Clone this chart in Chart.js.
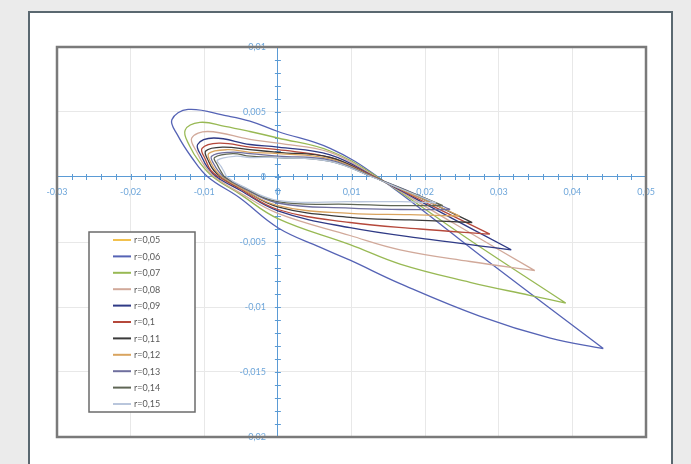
<!DOCTYPE html>
<html><head><meta charset="utf-8">
<script src="https://cdn.jsdelivr.net/npm/chart.js@4.4.1/dist/chart.umd.min.js"></script>
<style>
html,body{margin:0;padding:0;background:#ebebeb;width:691px;height:464px;overflow:hidden;}
#card{position:absolute;left:28px;top:11px;width:641px;height:470px;border:2px solid #5a6870;background:#fff;}
#c{position:absolute;left:0;top:0;}
</style></head><body>
<div id="card"></div>
<canvas id="c" width="691" height="464"></canvas>
<script>
const seriesLabels = ['r=0,05','r=0,06','r=0,07','r=0,08','r=0,09','r=0,1','r=0,11','r=0,12','r=0,13','r=0,14','r=0,15'];
const seriesColors = ['#f2c14e','#5563b5','#98b954','#d1a99a','#2f3a86','#b5483b','#3a3a3a','#d9a45f','#6f6f9e','#5f6655','#b9c6dc'];
const xTickLabels = ['-0,03','-0,02','-0,01','0','0,01','0,02','0,03','0,04','0,05'];
const yTickLabels = ['-0,02','-0,015','-0,01','-0,005','0','0,005','0,01'];

const r05X = [];
const r05Y = [];
const r06X = [0.0442, 0.0288, 0.0136, 0.0071, 0, -0.0038, -0.0069, -0.0122, -0.0144, -0.0136, -0.0117, -0.0095, -0.0052, 0, 0.0057, 0.0098, 0.0166, 0.0274, 0.0370, 0.0442];
const r06Y = [-0.0132, -0.0066, 0, 0.0022, 0.0035, 0.0043, 0.0047, 0.0052, 0.0044, 0.0032, 0.0015, 0, -0.0016, -0.0039, -0.0054, -0.0064, -0.0082, -0.0107, -0.0124, -0.0132];
const r07X = [0.0391, 0.0262, 0.0135, 0.0071, 0, -0.0038, -0.0072, -0.0106, -0.0126, -0.0120, -0.0106, -0.0088, -0.0052, 0, 0.0098, 0.0166, 0.0261, 0.0342, 0.0391];
const r07Y = [-0.0097, -0.0049, 0, 0.0020, 0.0030, 0.0035, 0.0039, 0.0042, 0.0036, 0.0024, 0.0011, 0, -0.0013, -0.0032, -0.0052, -0.0067, -0.0081, -0.0091, -0.0097];
const r08X = [0.0349, 0.0240, 0.0133, 0.0071, 0, -0.0038, -0.0095, -0.0117, -0.0110, -0.0099, -0.0086, -0.0052, 0, 0.0098, 0.0166, 0.0261, 0.0349];
const r08Y = [-0.0072, -0.0036, 0, 0.0019, 0.0026, 0.0029, 0.0035, 0.0030, 0.0019, 0.0008, 0, -0.0012, -0.0028, -0.0045, -0.0056, -0.0065, -0.0072];
const r09X = [0.0317, 0.0224, 0.0132, 0.0071, 0, -0.0038, -0.0087, -0.0109, -0.0103, -0.0095, -0.0083, -0.0052, 0, 0.0098, 0.0206, 0.0317];
const r09Y = [-0.0056, -0.0028, 0, 0.0017, 0.0023, 0.0025, 0.0030, 0.0025, 0.0015, 0.0007, 0, -0.0010, -0.0026, -0.0039, -0.0048, -0.0056];
const r10X = [0.0288, 0.0209, 0.0132, 0.0071, 0, -0.0038, -0.0080, -0.0103, -0.0098, -0.0091, -0.0080, -0.0052, 0, 0.0098, 0.0193, 0.0288];
const r10Y = [-0.0044, -0.0022, 0, 0.0015, 0.0021, 0.0023, 0.0026, 0.0022, 0.0013, 0.0005, 0, -0.0009, -0.0025, -0.0035, -0.0040, -0.0044];
const r11X = [0.0264, 0.0197, 0.0130, 0.0071, 0, -0.0038, -0.0075, -0.0098, -0.0094, -0.0087, -0.0077, -0.0052, 0, 0.0098, 0.0179, 0.0264];
const r11Y = [-0.0035, -0.0017, 0, 0.0015, 0.0019, 0.0021, 0.0023, 0.0020, 0.0012, 0.0005, 0, -0.0008, -0.0023, -0.0031, -0.0033, -0.0035];
const r12X = [0.0247, 0.0189, 0.0130, 0.0071, 0, -0.0038, -0.0069, -0.0094, -0.0090, -0.0083, -0.0076, -0.0052, 0, 0.0098, 0.0179, 0.0247];
const r12Y = [-0.0030, -0.0015, 0, 0.0014, 0.0018, 0.0019, 0.0021, 0.0018, 0.0010, 0.0004, 0, -0.0008, -0.0022, -0.0028, -0.0029, -0.0030];
const r13X = [0.0234, 0.0182, 0.0129, 0.0071, 0, -0.0038, -0.0065, -0.0090, -0.0086, -0.0080, -0.0073, -0.0052, 0, 0.0098, 0.0166, 0.0234];
const r13Y = [-0.0025, -0.0012, 0, 0.0013, 0.0016, 0.0018, 0.0019, 0.0016, 0.0009, 0.0004, 0, -0.0007, -0.0020, -0.0024, -0.0025, -0.0025];
const r14X = [0.0224, 0.0177, 0.0129, 0.0071, 0, -0.0038, -0.0061, -0.0086, -0.0082, -0.0077, -0.0072, -0.0052, 0, 0.0098, 0.0166, 0.0224];
const r14Y = [-0.0022, -0.0011, 0, 0.0012, 0.0015, 0.0016, 0.0018, 0.0015, 0.0009, 0.0004, 0, -0.00065, -0.0019, -0.0021, -0.0022, -0.0022];
const r15X = [0.0215, 0.0171, 0.0128, 0.0071, 0, -0.0038, -0.0057, -0.0082, -0.0077, -0.0073, -0.0069, -0.0052, 0, 0.0098, 0.0166, 0.0215];
const r15Y = [-0.0020, -0.0010, 0, 0.0012, 0.0015, 0.0015, 0.0016, 0.0013, 0.0008, 0.0004, 0, -0.0006, -0.0018, -0.0019, -0.0019, -0.0020];

const allX = [r05X, r06X, r07X, r08X, r09X, r10X, r11X, r12X, r13X, r14X, r15X];
const allY = [r05Y, r06Y, r07Y, r08Y, r09Y, r10Y, r11Y, r12Y, r13Y, r14Y, r15Y];

const datasets = seriesLabels.map((lab, i) => ({
  label: lab,
  data: allX[i].map((x, j) => ({x: x, y: allY[i][j]})),
  showLine: true,
  borderColor: seriesColors[i],
  backgroundColor: seriesColors[i],
  borderWidth: 1.3,
  pointRadius: 0,
  tension: 0.4,
  fill: false,
  order: seriesLabels.length - i
}));

const AXIS_BLUE = '#5b9bd5';
const decor = {
  id: 'decor',
  beforeDraw(chart) {
    const ys = chart.scales.y;
    if (ys && ys.getLabelItems) {
      const items = ys.getLabelItems(chart.chartArea);
      if (!items._shifted) {
        items.forEach(it => {
          const t = it.options.translation;
          it.options.translation = [t[0] - 12, t[1]];
        });
        items._shifted = true;
      }
    }
  },
  beforeDatasetsDraw(chart) {
    const ctx = chart.ctx, xs = chart.scales.x, ys = chart.scales.y;
    const ax = xs.getPixelForValue(0), ay = ys.getPixelForValue(0);
    ctx.save();
    ctx.strokeStyle = AXIS_BLUE;
    ctx.lineWidth = 1;
    ctx.beginPath();
    for (let k = 0; k <= 40; k++) {
      const px = Math.round(xs.getPixelForValue(-0.03 + k * 0.002)) + 0.5;
      ctx.moveTo(px, ay - 3); ctx.lineTo(px, ay + 3);
    }
    for (let k = 0; k <= 30; k++) {
      const py = Math.round(ys.getPixelForValue(-0.02 + k * 0.001)) + 0.5;
      ctx.moveTo(ax - 3, py); ctx.lineTo(ax + 3, py);
    }
    ctx.stroke();
    ctx.restore();
  },
  afterDraw(chart) {
    const ctx = chart.ctx, a = chart.chartArea;
    ctx.save();
    ctx.strokeStyle = '#7a7a7a';
    ctx.lineWidth = 2.5;
    ctx.strokeRect(a.left, a.top, a.right - a.left, a.bottom - a.top);
    const bx = 89, by = 232, bw = 106, bh = 180;
    ctx.fillStyle = '#ffffff';
    ctx.fillRect(bx, by, bw, bh);
    ctx.strokeStyle = '#6b6b6b';
    ctx.lineWidth = 1.5;
    ctx.strokeRect(bx, by, bw, bh);
    ctx.font = '9px Lato';
    ctx.textBaseline = 'middle';
    ctx.textAlign = 'left';
    chart.data.datasets.forEach((ds, i) => {
      const yy = by + 8 + i * 16.4;
      ctx.strokeStyle = ds.borderColor;
      ctx.lineWidth = 2;
      ctx.beginPath();
      ctx.moveTo(113, yy); ctx.lineTo(131, yy);
      ctx.stroke();
      ctx.fillStyle = '#595959';
      ctx.fillText(ds.label, 134, yy + 0.5);
    });
    ctx.restore();
  }
};

new Chart(document.getElementById('c'), {
  type: 'scatter',
  data: { datasets: datasets },
  plugins: [decor],
  options: {
    responsive: false,
    animation: false,
    devicePixelRatio: 1,
    layout: { padding: { left: 57, right: 45, top: 47, bottom: 27 } },
    plugins: { legend: { display: false }, tooltip: { enabled: false } },
    scales: {
      x: {
        type: 'linear', min: -0.03, max: 0.05,
        position: { y: 0 },
        ticks: { stepSize: 0.01, autoSkip: false, maxRotation: 0, padding: 10,
          color: '#6ea6da', font: { family: 'Lato', size: 9 },
          callback: (v, i) => xTickLabels[i] },
        grid: { color: '#e8e8e8', drawTicks: false, lineWidth: 1 },
        border: { color: AXIS_BLUE, width: 1 }
      },
      y: {
        type: 'linear', min: -0.02, max: 0.01,
        position: { x: 0 },
        ticks: { stepSize: 0.005, autoSkip: false, padding: 12,
          color: '#6ea6da', font: { family: 'Lato', size: 9 },
          callback: (v, i) => yTickLabels[i] },
        grid: { color: '#e8e8e8', drawTicks: false, lineWidth: 1 },
        border: { color: AXIS_BLUE, width: 1 }
      }
    }
  }
});
</script>
</body></html>
